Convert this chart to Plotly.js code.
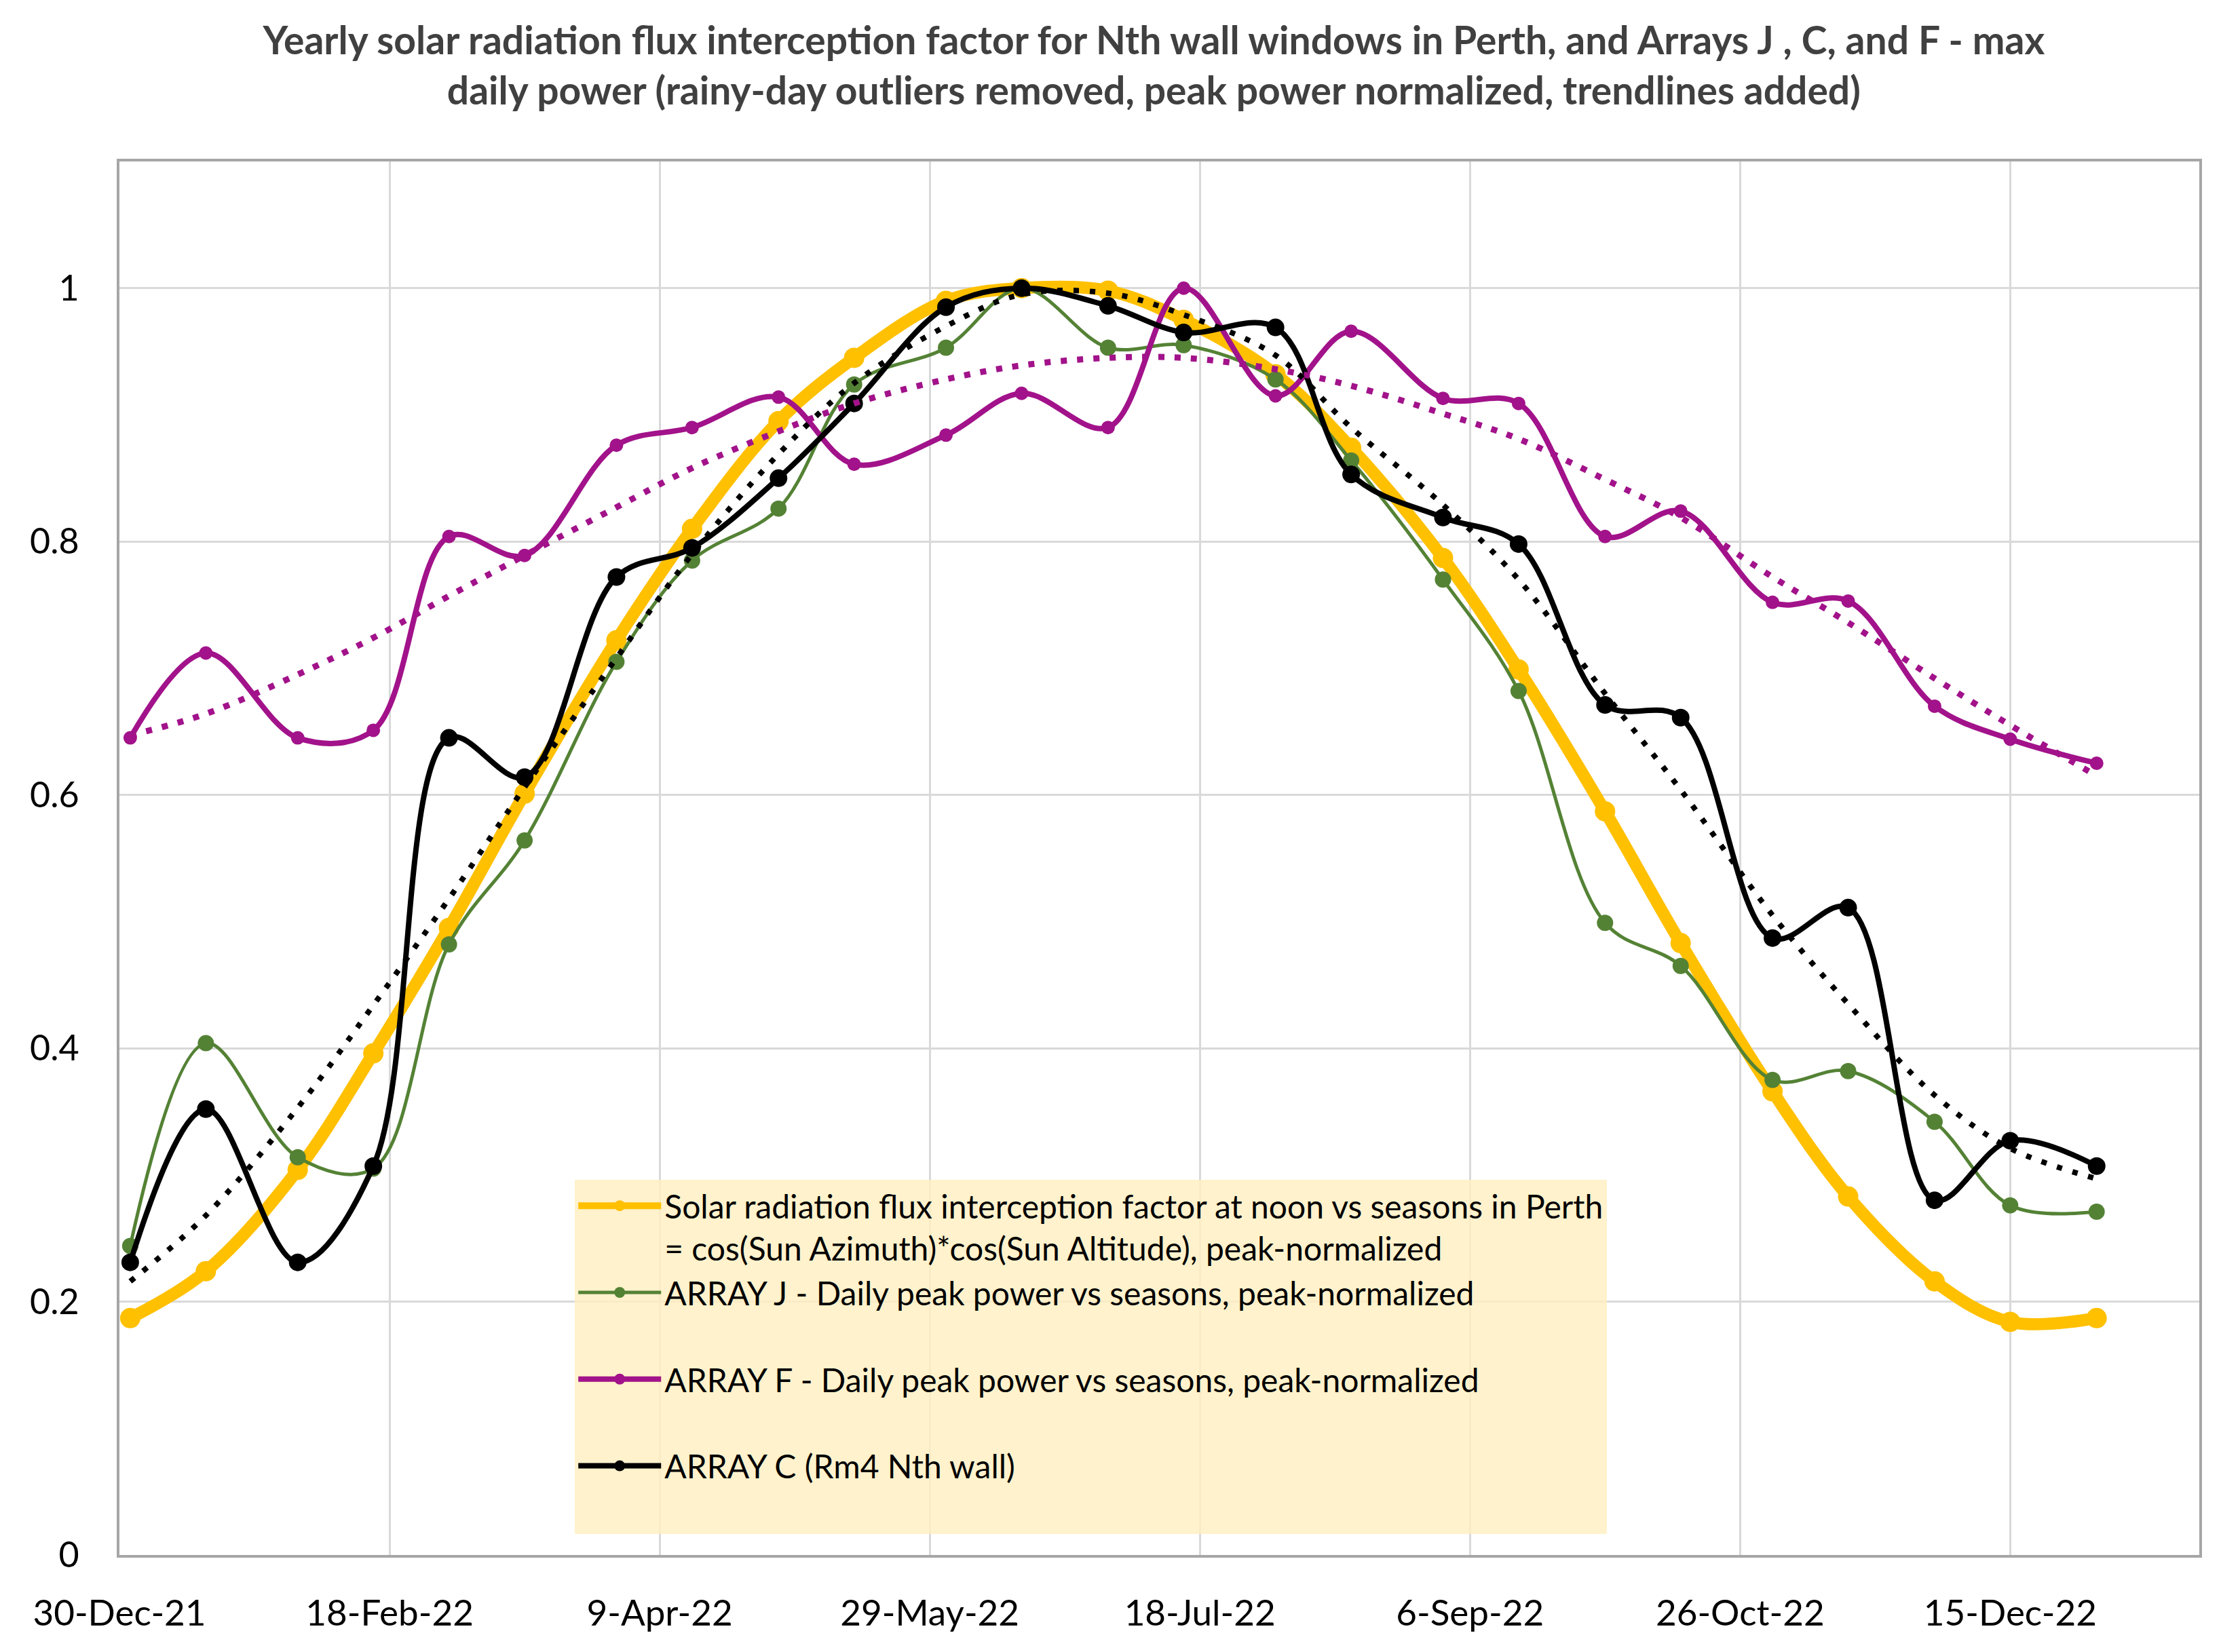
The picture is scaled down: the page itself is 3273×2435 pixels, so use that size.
<!DOCTYPE html>
<html>
<head>
<meta charset="utf-8">
<script src="https://cdn.plot.ly/plotly-3.0.1.min.js"></script>
<style>
    html, body { margin: 0; padding: 0; background: #ffffff; }
    #chart { width: 3273px; height: 2435px; }
</style>
</head>
<body>
<div id="chart"></div>
<script>
// sample dates: 1st and 15th of each month, plus 31 Dec
const dates = [
    '2022-01-01', '2022-01-15', '2022-02-01', '2022-02-15', '2022-03-01', '2022-03-15',
    '2022-04-01', '2022-04-15', '2022-05-01', '2022-05-15', '2022-06-01', '2022-06-15',
    '2022-07-01', '2022-07-15', '2022-08-01', '2022-08-15', '2022-09-01', '2022-09-15',
    '2022-10-01', '2022-10-15', '2022-11-01', '2022-11-15', '2022-12-01', '2022-12-15',
    '2022-12-31'
];

const solarFactor = [
    0.187, 0.224, 0.304, 0.396, 0.495, 0.601, 0.722, 0.810, 0.895, 0.945, 0.990, 1.000,
    0.998, 0.975, 0.932, 0.874, 0.787, 0.699, 0.587, 0.483, 0.366, 0.283, 0.216, 0.184,
    0.187
];

const arrayJ = [
    0.244, 0.404, 0.314, 0.305, 0.482, 0.564, 0.705, 0.785, 0.826, 0.924, 0.953, 1.000,
    0.953, 0.955, 0.928, 0.864, 0.770, 0.682, 0.499, 0.465, 0.375, 0.382, 0.342, 0.276,
    0.271
];

const arrayF = [
    0.645, 0.712, 0.645, 0.651, 0.804, 0.789, 0.876, 0.890, 0.914, 0.861, 0.884, 0.917,
    0.890, 1.000, 0.915, 0.966, 0.913, 0.909, 0.804, 0.824, 0.752, 0.753, 0.670, 0.644,
    0.625
];

const arrayC = [
    0.231, 0.352, 0.231, 0.307, 0.645, 0.614, 0.772, 0.795, 0.850, 0.909, 0.985, 1.000,
    0.986, 0.965, 0.969, 0.853, 0.819, 0.798, 0.671, 0.661, 0.487, 0.511, 0.280, 0.327,
    0.307
];

// trendlines at the same dates
const arrayFTrend = [
    0.647, 0.664, 0.695, 0.724, 0.757, 0.789, 0.827, 0.858, 0.887, 0.909, 0.928, 0.939,
    0.945, 0.945, 0.936, 0.923, 0.901, 0.881, 0.849, 0.819, 0.772, 0.736, 0.692, 0.655,
    0.615
];

const arrayCTrend = [
    0.216, 0.268, 0.353, 0.434, 0.518, 0.606, 0.708, 0.790, 0.869, 0.925, 0.970, 0.995,
    0.996, 0.979, 0.947, 0.890, 0.829, 0.770, 0.680, 0.604, 0.505, 0.435, 0.363, 0.321,
    0.297
];

const xTickDates = ['2021-12-30', '2022-02-18', '2022-04-09', '2022-05-29',
    '2022-07-18', '2022-09-06', '2022-10-26', '2022-12-15'];
const xTickLabels = ['30-Dec-21', '18-Feb-22', '9-Apr-22', '29-May-22',
    '18-Jul-22', '6-Sep-22', '26-Oct-22', '15-Dec-22'];
const yTickValues = [0, 0.2, 0.4, 0.6, 0.8, 1];
const yTickLabels = ['0', '0.2', '0.4', '0.6', '0.8', '1'];

const FONT = 'Lato, "Open Sans", sans-serif';

function seriesTrace(name, values, color, lineWidth, markerSize) {
    return {
        x: dates,
        y: values,
        name: name,
        legendgroup: name,
        type: 'scatter',
        mode: 'lines+markers',
        line: { color: color, width: lineWidth, shape: 'spline', smoothing: 1 },
        marker: { color: color, size: markerSize }
    };
}

function trendTrace(values, color, width, dash) {
    return {
        x: dates,
        y: values,
        type: 'scatter',
        mode: 'lines',
        showlegend: false,
        hoverinfo: 'skip',
        line: { color: color, width: width, dash: dash, shape: 'spline', smoothing: 1 }
    };
}

const traces = [
    seriesTrace('Solar radiation flux interception factor at noon vs seasons in Perth<br>= cos(Sun Azimuth)*cos(Sun Altitude), peak-normalized',
        solarFactor, '#FFC000', 18, 30),
    seriesTrace('ARRAY J - Daily peak power vs seasons, peak-normalized<br>\u00a0',
        arrayJ, '#548235', 5, 24),
    seriesTrace('ARRAY F - Daily peak power vs seasons, peak-normalized<br>\u00a0',
        arrayF, '#A2128A', 8, 20),
    seriesTrace('ARRAY C (Rm4 Nth wall)<br>\u00a0',
        arrayC, '#000000', 8, 26),
    trendTrace(arrayFTrend, '#A2128A', 9, '9px,15px'),
    trendTrace(arrayCTrend, '#000000', 8, '8px,16px')
];

const layout = {
    width: 3273,
    height: 2435,
    paper_bgcolor: '#ffffff',
    plot_bgcolor: '#ffffff',
    font: { family: FONT, color: '#000000', size: 46 },
    margin: { l: 176, r: 32, t: 238, b: 143 },
    title: {
        text: 'Yearly solar radiation flux interception factor for Nth wall windows in Perth, and Arrays J , C, and F - max<br>daily power (rainy-day outliers removed, peak power normalized, trendlines added)',
        x: 0.5195,
        xanchor: 'center',
        y: 0.967,
        yanchor: 'middle',
        font: { family: FONT, size: 57, color: '#404040', weight: 700 }
    },
    xaxis: {
        type: 'date',
        range: ['2021-12-30', '2023-01-19'],
        tickvals: xTickDates,
        ticktext: xTickLabels,
        tickfont: { family: FONT, size: 53, color: '#000000' },
        ticks: '',
        ticklabelstandoff: 36,
        showgrid: true,
        gridcolor: '#D9D9D9',
        gridwidth: 3,
        showline: true,
        linecolor: '#A6A6A6',
        linewidth: 4,
        mirror: true,
        zeroline: false
    },
    yaxis: {
        range: [0, 1.1],
        tickvals: yTickValues,
        ticktext: yTickLabels,
        tickfont: { family: FONT, size: 52, color: '#000000' },
        ticks: '',
        ticklabelstandoff: 45,
        showgrid: true,
        gridcolor: '#D9D9D9',
        gridwidth: 3,
        showline: true,
        linecolor: '#A6A6A6',
        linewidth: 4,
        mirror: true,
        zeroline: false
    },
    legend: {
        x: 0.219,
        y: 0.269,
        xanchor: 'left',
        yanchor: 'top',
        bgcolor: 'rgba(255,239,191,0.8)',
        borderwidth: 0,
        font: { family: FONT, size: 48, color: '#000000' },
        valign: 'top',
        itemwidth: 122,
        tracegroupgap: 0,
        traceorder: 'grouped'
    },
    showlegend: true
};

Plotly.newPlot('chart', traces, layout, { displayModeBar: false, staticPlot: true });
</script>
</body>
</html>
